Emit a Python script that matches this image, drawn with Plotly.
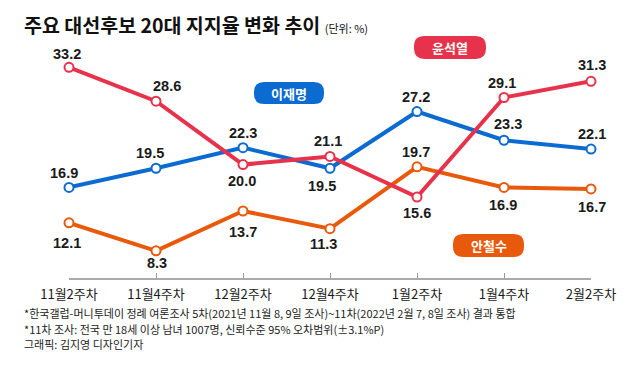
import plotly.graph_objects as go

# ---------------- data ----------------
categories = ["11월2주차", "11월4주차", "12월2주차", "12월4주차", "1월2주차", "1월4주차", "2월2주차"]
yoon = [33.2, 28.6, 20.0, 21.1, 15.6, 29.1, 31.3]   # 윤석열
lee = [16.9, 19.5, 22.3, 19.5, 27.2, 23.3, 22.1]    # 이재명
ahn = [12.1, 8.3, 13.7, 11.3, 19.7, 16.9, 16.7]     # 안철수

title_text = "주요 대선후보 20대 지지율 변화 추이"
unit_text = "(단위: %)"
notes = [
    "*한국갤럽-머니투데이 정례 여론조사 5차(2021년 11월 8, 9일 조사)~11차(2022년 2월 7, 8일 조사) 결과 통합",
    "*11차 조사: 전국 만 18세 이상 남녀 1007명, 신뢰수준 95% 오차범위(±3.1%P)",
    "그래픽: 김지영 디자인기자",
]

RED = "#e6334b"
BLUE = "#0b6bd0"
ORANGE = "#e8590c"
TXT = "#1a1a1a"
KFONT = "Noto Sans CJK KR"
NUMFONT = "Liberation Sans, Noto Sans CJK KR"

# ---------------- layout geometry ----------------
# page body has an 8px margin, so the figure is drawn at (8, 8) inside the window
OFF = 8
W, H = 640 - 2 * OFF, 373 - 2 * OFF
# plot area in window pixels: x 69..591, y 60..278
ML, MR = 69 - OFF, W - (591 - OFF)
MT, MB = 60 - OFF, H - (278 - OFF)
PW, PH = W - ML - MR, H - MT - MB


def px(xw):
    """window x pixel -> paper fraction"""
    return (xw - OFF - ML) / PW


def py(yw):
    """window y pixel -> paper fraction"""
    return (H - MB - (yw - OFF)) / PH


x = list(range(len(categories)))

fig = go.Figure()

series = [
    ("안철수", ahn, ORANGE),
    ("이재명", lee, BLUE),
    ("윤석열", yoon, RED),
]
for name, vals, col in series:
    fig.add_trace(go.Scatter(
        x=x, y=vals, mode="lines+markers", name=name,
        line=dict(color=col, width=4),
        marker=dict(size=9, color="white", line=dict(color=col, width=2)),
        cliponaxis=False, hoverinfo="skip", showlegend=False,
    ))

# label offsets (dx, dy in pixels, dy positive = down)
offsets = {
    "윤석열": [(-2, -13), (11, -15), (-1, 16), (-2, -15), (0, 16), (-2, -15), (1, -16)],
    "이재명": [(-5, -14), (-6, -15), (0, -15), (-8, 18), (-1, -15), (4, -16), (1, -15)],
    "안철수": [(-2, 20), (1, 12), (0, 21), (-7, 15), (-1, -15), (-1, 18), (1, 18)],
}

annotations = []
for name, vals, col in series:
    for i, v in enumerate(vals):
        dx, dy = offsets[name][i]
        annotations.append(dict(
            x=x[i], y=v, xref="x", yref="y", text=f"<b>{v:.1f}</b>", showarrow=False,
            xshift=dx, yshift=-dy, xanchor="center", yanchor="middle",
            font=dict(family=NUMFONT, size=14.5, color=TXT),
        ))

# title
annotations.append(dict(
    x=px(22), y=py(25), xref="paper", yref="paper", xanchor="left", yanchor="middle",
    text=f"<b>{title_text}</b> <span style='font-size:11px'>{unit_text}</span>",
    showarrow=False, font=dict(family=KFONT, size=19.5, color="#111111"),
))

# footnotes
for yw, t in zip([313, 329, 344], notes):
    annotations.append(dict(
        x=px(22), y=py(yw), xref="paper", yref="paper", xanchor="left", yanchor="middle",
        text=t, showarrow=False, font=dict(family=KFONT, size=11, color="#222222"),
    ))

# badges
shapes = []
badges = [("윤석열", RED, 450, 47.5, 72, 23), ("이재명", BLUE, 289, 93, 70, 22), ("안철수", ORANGE, 488.5, 245.5, 71, 23)]
for name, col, cx, cy, bw, bh in badges:
    r = bh / 2 - 1
    x0, x1 = cx - bw / 2, cx + bw / 2
    y0, y1 = cy - bh / 2, cy + bh / 2
    pts = [
        ("M", (x0 + r, y0)), ("L", (x1 - r, y0)), ("Q", (x1, y0), (x1, y0 + r)),
        ("L", (x1, y1 - r)), ("Q", (x1, y1), (x1 - r, y1)), ("L", (x0 + r, y1)),
        ("Q", (x0, y1), (x0, y1 - r)), ("L", (x0, y0 + r)), ("Q", (x0, y0), (x0 + r, y0)),
    ]
    path = ""
    for cmd, *ps in pts:
        path += cmd + " " + " ".join(f"{px(a):.5f},{py(b):.5f}" for a, b in ps) + " "
    path += "Z"
    shapes.append(dict(type="path", path=path, xref="paper", yref="paper",
                       fillcolor=col, line=dict(width=0), layer="above"))
    annotations.append(dict(
        x=px(cx), y=py(cy), xref="paper", yref="paper", xanchor="center", yanchor="middle",
        text=f"<b>{name}</b>", showarrow=False, font=dict(family=KFONT, size=13, color="white"),
    ))

fig.update_layout(
    width=W, height=H,
    margin=dict(l=ML, r=MR, t=MT, b=MB, pad=0),
    paper_bgcolor="white", plot_bgcolor="white",
    xaxis=dict(
        range=[0, 6], tickvals=x, ticktext=categories,
        showline=True, linecolor="#aaaaaa", linewidth=2,
        ticks="inside", ticklen=5, tickwidth=1, tickcolor="#999999",
        showgrid=False, zeroline=False, fixedrange=True,
        ticklabelstandoff=3,
        tickfont=dict(family=KFONT, size=13, color=TXT),
    ),
    yaxis=dict(range=[4.61, 34.19], visible=False, showgrid=False, zeroline=False, fixedrange=True),
    annotations=annotations,
    shapes=shapes,
    showlegend=False,
)

fig.write_html("out.html")
